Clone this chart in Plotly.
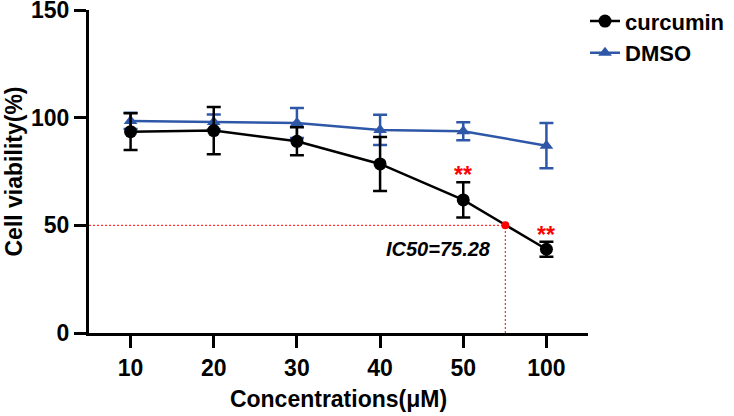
import plotly.graph_objects as go

categories = ["10", "20", "30", "40", "50", "100"]
conc = [10, 20, 30, 40, 50, 100]
curcumin_mean = [93.5, 94.0, 89.0, 78.5, 61.8, 38.9]
curcumin_sd = [8.5, 11.0, 6.5, 12.5, 8.2, 3.5]
dmso_mean = [98.5, 98.0, 97.5, 94.3, 93.7, 87.0]
dmso_sd = [3.8, 3.5, 7.0, 7.0, 4.2, 10.5]
ic50 = 75.28
sig_labels = ["", "", "", "", "**", "**"]

xpos = list(range(len(categories)))
# IC50 position on the categorical axis (between 50 and 100)
ic50_pos = 4 + (ic50 - conc[4]) / (conc[5] - conc[4])

FONT = "Liberation Sans, Arial, sans-serif"
BLUE = "#2F57A8"
RED = "#FF0000"
FS = 23

fig = go.Figure()

# reference lines
fig.add_trace(go.Scatter(x=[-0.5, ic50_pos], y=[50, 50], mode="lines",
                         line=dict(color=RED, width=1, dash="2px,2px"),
                         showlegend=False, hoverinfo="skip"))
fig.add_trace(go.Scatter(x=[ic50_pos, ic50_pos], y=[0, 50], mode="lines",
                         line=dict(color=RED, width=1, dash="2px,2px"),
                         showlegend=False, hoverinfo="skip"))

fig.add_trace(go.Scatter(
    x=xpos, y=dmso_mean, name="DMSO", mode="lines+markers",
    line=dict(color=BLUE, width=2.5),
    marker=dict(symbol="triangle-up", size=12, color=BLUE),
    error_y=dict(type="data", array=dmso_sd, color=BLUE, thickness=2.5, width=7),
    legendrank=2,
))
fig.add_trace(go.Scatter(
    x=xpos, y=curcumin_mean, name="curcumin", mode="lines+markers",
    line=dict(color="black", width=2.5),
    marker=dict(symbol="circle", size=13, color="black"),
    error_y=dict(type="data", array=curcumin_sd, color="black", thickness=2.5, width=7),
    legendrank=1,
))

fig.add_trace(go.Scatter(x=[ic50_pos], y=[50], mode="markers",
                         marker=dict(color=RED, size=8),
                         showlegend=False, hoverinfo="skip"))

annotations = []
for i, lab in enumerate(sig_labels):
    if lab:
        annotations.append(dict(x=xpos[i], y=curcumin_mean[i] + curcumin_sd[i],
                                text=lab, showarrow=False, yanchor="bottom",
                                yshift=-8,
                                font=dict(family=FONT, size=FS, color=RED, weight="bold")))
annotations.append(dict(x=ic50_pos - 0.8, y=39, text=f"<i>IC50={ic50}</i>",
                        showarrow=False,
                        font=dict(family=FONT, size=20, color="black", weight="bold")))

fig.update_layout(
    width=734, height=416,
    margin=dict(l=89, r=146, t=10, b=83, autoexpand=False),
    plot_bgcolor="white", paper_bgcolor="white",
    font=dict(family=FONT, size=FS, color="black", weight="bold"),
    annotations=annotations,
    legend=dict(x=0.994, y=1.03, xanchor="left", yanchor="top",
                font=dict(family=FONT, size=22, color="black", weight="bold"),
                bgcolor="rgba(0,0,0,0)", itemwidth=30, tracegroupgap=12),
    xaxis=dict(
        range=[-0.5, 5.5], tickvals=xpos, ticktext=categories,
        showline=True, linecolor="black", linewidth=3,
        ticks="outside", ticklen=12, tickwidth=3, tickcolor="black",
        showgrid=False, zeroline=False, automargin=False,
        ticklabeloverflow="allow",
        tickfont=dict(family=FONT, size=FS, color="black", weight="bold"),
        title=dict(text="Concentrations(μM)", standoff=12,
                   font=dict(family=FONT, size=FS, color="black", weight="bold")),
    ),
    yaxis=dict(
        range=[0, 150], tickvals=[0, 50, 100, 150],
        showline=True, linecolor="black", linewidth=3,
        ticks="outside", ticklen=12, tickwidth=3, tickcolor="black",
        showgrid=False, zeroline=False, automargin=False,
        ticklabeloverflow="allow",
        tickfont=dict(family=FONT, size=FS, color="black", weight="bold"),
        title=dict(text="Cell viability(%)", standoff=2,
                   font=dict(family=FONT, size=FS, color="black", weight="bold")),
    ),
)

# remove the page's default body margin so the figure sits at the window origin
fig.write_html(
    "out.html",
    config={"displayModeBar": False},
    post_script="document.body.style.margin='0';document.body.style.overflow='hidden';",
)
